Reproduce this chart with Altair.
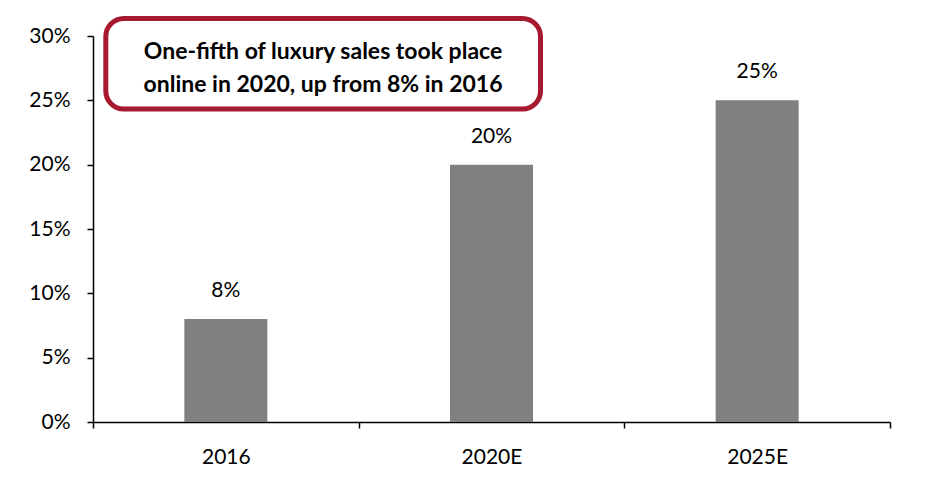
import altair as alt
import pandas as pd

categories = ["2016", "2020E", "2025E"]
shares = [0.08, 0.20, 0.25]
y_ticks = [0, 0.05, 0.10, 0.15, 0.20, 0.25, 0.30]
callout_lines = ["One-fifth of luxury sales took place", "online in 2020, up from 8% in 2016"]

FONT = "Lato"
W, H = 797, 386

df = pd.DataFrame({"year": categories, "share": shares})

x_enc = alt.X(
    "year:N",
    sort=categories,
    scale=alt.Scale(paddingInner=0, paddingOuter=0),
    axis=alt.Axis(
        title=None, labelAngle=0, tickBand="extent", tickSize=6, tickColor="black",
        domainColor="black", domainWidth=1.5, tickWidth=1.5, labelPadding=18,
        labelFont=FONT, labelFontSize=21, labelColor="black", grid=False,
    ),
)
y_enc = alt.Y(
    "share:Q",
    scale=alt.Scale(domain=[0, 0.30], nice=False),
    axis=alt.Axis(
        title=None, values=y_ticks, format=".0%", tickSize=6, tickColor="black",
        domainColor="black", domainWidth=1.5, tickWidth=1.5, labelPadding=17,
        labelFont=FONT, labelFontSize=21, labelColor="black", grid=False,
    ),
)

bars = alt.Chart(df).mark_bar(size=83, color="#808080").encode(x=x_enc, y=y_enc)

labels = alt.Chart(df).mark_text(
    baseline="bottom", dy=-18, font=FONT, fontSize=21, color="black"
).encode(x=alt.X("year:N", sort=categories), y="share:Q", text=alt.Text("share:Q", format=".0%"))

box_df = pd.DataFrame({"k": [0]})
box = alt.Chart(box_df).mark_rect(
    fill="white", stroke="#A6192E", strokeWidth=5, cornerRadius=18, clip=False
).encode(
    x=alt.value(12.8), x2=alt.value(447.5), y=alt.value(-17.5), y2=alt.value(73)
)
box_text = alt.Chart(box_df).mark_text(
    text=callout_lines, font=FONT, fontSize=23, fontWeight="bold", color="black",
    align="center", baseline="middle", lineHeight=33
).encode(x=alt.value(230), y=alt.value(15.5))

chart = alt.layer(bars, labels, box, box_text).properties(
    width=W, height=H,
    background="white",
    autosize=alt.AutoSizeParams(type="none"),
    padding={"left": 85, "top": 28, "right": 30, "bottom": 60},
).configure_view(stroke=None, strokeWidth=0)

chart.save("out.html", embed_options={"renderer": "svg", "actions": False})
